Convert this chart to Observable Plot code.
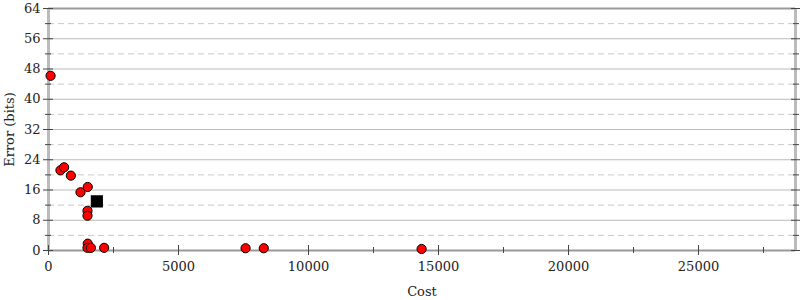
<!DOCTYPE html>
<html>
<head>
<meta charset="utf-8">
<script src="https://cdn.jsdelivr.net/npm/d3@7"></script>
<script src="https://cdn.jsdelivr.net/npm/@observablehq/plot@0.6"></script>
<style>
  html, body { margin: 0; padding: 0; background: #fff; }
  svg { font-family: "DejaVu Serif", serif; }
</style>
</head>
<body>
<div id="chart"></div>
<script>
const costs  = [80, 460, 600, 860, 1230, 1510, 1500, 1500, 1510, 1500, 1630, 2140, 7580, 8280, 14350];
const errors = [46.2, 21.2, 22.0, 19.8, 15.4, 16.8, 10.5, 9.2, 1.8, 0.7, 0.7, 0.7, 0.6, 0.6, 0.4];
const initialCost = [1860];
const initialError = [13.0];
const yMajor = [0, 8, 16, 24, 32, 40, 48, 56, 64];
const yMinor = [4, 12, 20, 28, 36, 44, 52, 60];
const xMajor = [0, 5000, 10000, 15000, 20000, 25000];
const xMinor = [2500, 7500, 12500, 17500, 22500, 27500];
const xMax = 28730;

const points = costs.map((c, i) => ({cost: c, error: errors[i]}));
const initial = initialCost.map((c, i) => ({cost: c, error: initialError[i]}));

const chart = Plot.plot({
  width: 800,
  height: 300,
  marginLeft: 48,
  marginRight: 5,
  marginTop: 8,
  marginBottom: 50,
  style: {fontFamily: "DejaVu Serif, serif", fontSize: "13px", color: "#222", background: "#fff"},
  x: {domain: [0, xMax]},
  y: {domain: [0, 64]},
  marks: [
    Plot.ruleY(yMinor, {stroke: "#c8c8c8", strokeDasharray: "6,4"}),
    Plot.ruleY(yMajor, {stroke: "#bbb"}),
    Plot.ruleY([0, 64], {stroke: "#999", strokeWidth: 2}),
    Plot.ruleX([0, xMax], {stroke: "#bbb", strokeWidth: 3}),
    Plot.axisY({ticks: yMajor, tickSize: 10, dx: 5, text: null, stroke: "#444", label: null}),
    Plot.axisY({ticks: yMinor, tickSize: 6, dx: 3, text: null, stroke: "#444", label: null}),
    Plot.axisY({anchor: "right", ticks: yMajor, tickSize: 10, dx: -5, text: null, stroke: "#444", label: null}),
    Plot.axisY({anchor: "right", ticks: yMinor, tickSize: 6, dx: -3, text: null, stroke: "#444", label: null}),
    Plot.axisY({ticks: yMajor, tickSize: 0, tickPadding: 8, fontSize: 13, fill: "#222",
      label: "Error (bits)", labelAnchor: "center", labelArrow: "none", labelOffset: 44}),
    Plot.axisX({ticks: xMajor, tickSize: 10, dy: -5, text: null, stroke: "#444", label: null}),
    Plot.axisX({ticks: xMinor, tickSize: 6, dy: -3, text: null, stroke: "#444", label: null}),
    Plot.axisX({ticks: xMajor, tickSize: 0, tickPadding: 11, fontSize: 13, fill: "#222", tickFormat: d => String(d),
      label: "Cost", labelAnchor: "center", labelArrow: "none", labelOffset: 45}),
    Plot.dot(points, {x: "cost", y: "error", r: 4.6, fill: "red", stroke: "black", strokeWidth: 1}),
    Plot.dot(initial, {x: "cost", y: "error", symbol: "square", r: 6, fill: "black", stroke: "black"})
  ]
});
document.getElementById("chart").appendChild(chart);
</script>
</body>
</html>
